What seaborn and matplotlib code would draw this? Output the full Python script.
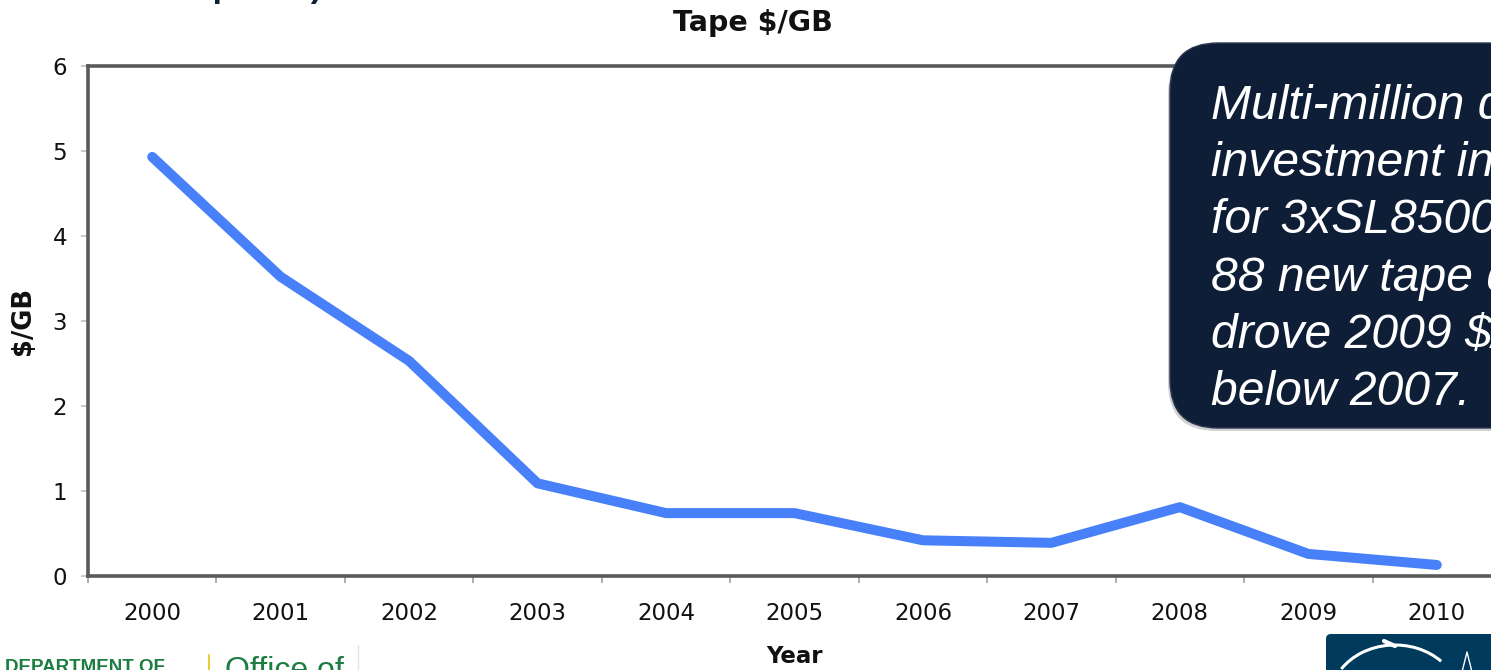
import matplotlib
matplotlib.use("Agg")
import matplotlib.pyplot as plt
import matplotlib.patches as mpatches
from matplotlib.transforms import IdentityTransform
from matplotlib.ticker import FixedLocator
import seaborn as sns
import pandas as pd

# ---- data ----
years = [2000, 2001, 2002, 2003, 2004, 2005, 2006, 2007, 2008, 2009, 2010]
cost_per_gb = [4.93, 3.52, 2.53, 1.09, 0.74, 0.74, 0.42, 0.39, 0.81, 0.26, 0.13]
y_ticks = [0, 1, 2, 3, 4, 5, 6]

chart_title = "Tape $/GB"
x_label = "Year"
y_label = "$/GB"
callout_lines = [
    "Multi-million dollar",
    "investment in media",
    "for 3xSL8500s and",
    "88 new tape drives",
    "drove 2009 $/GB",
    "below 2007.",
]

W, H = 1491, 670
DPI = 100

sns.set_theme(style="white")
plt.rcParams["font.family"] = ["DejaVu Sans"]

fig = plt.figure(figsize=(W / DPI, H / DPI), dpi=DPI)
fig.patch.set_facecolor("white")

def fx(x):
    return x / W

def fy(y):
    return 1 - y / H

# plot area (extends slightly past the right edge of the slide)
left, right, top, bottom = 88, 1501, 66, 576
ax = fig.add_axes([fx(left), fy(bottom), (right - left) / W, (bottom - top) / H])

df = pd.DataFrame({"Year": years, "Cost": cost_per_gb})
sns.lineplot(data=df, x="Year", y="Cost", ax=ax, color="#4780f8",
             linewidth=7.2, solid_capstyle="round", solid_joinstyle="round")

ax.set_xlim(years[0] - 0.5, years[-1] + 0.5)
ax.set_ylim(y_ticks[0], y_ticks[-1])
ax.set_yticks(y_ticks)
ax.set_xticks(years)
ax.set_xticklabels([str(y) for y in years])
ax.xaxis.set_minor_locator(FixedLocator([y - 0.5 for y in years] + [years[-1] + 0.5]))

ax.tick_params(axis="x", which="major", length=0, pad=18.5, labelsize=16.5, labelcolor="#111111")
ax.tick_params(axis="x", which="minor", length=5, width=1.2, color="#a0a0a0", direction="out", bottom=True)
ax.tick_params(axis="y", which="major", length=5, width=1.2, color="#c0c0c0", direction="out",
               pad=10, labelsize=16.5, labelcolor="#111111", left=True)

for side in ["left", "top", "bottom", "right"]:
    ax.spines[side].set_visible(True)
    ax.spines[side].set_color("#5a5a5a")
    ax.spines[side].set_linewidth(2.6)
ax.grid(False)

ax.set_xlabel(x_label, fontsize=16.5, fontweight="bold", color="#111111")
ax.xaxis.set_label_coords(0.5, (bottom - 645) / (bottom - top))
ax.set_ylabel(y_label, fontsize=18.5, fontweight="bold", color="#111111")
ax.yaxis.set_label_coords((23 - left) / (right - left), 0.5)
ax.yaxis.label.set_verticalalignment("center")

fig.text(fx(753), fy(31), chart_title, fontsize=20.5, fontweight="bold",
         color="#111111", ha="center", va="baseline")

# heading text running off the top of the slide
fig.text(fx(322), fy(-3), "(total cost and power)", fontsize=24, fontweight="bold",
         color="#0f1e37", ha="right", va="baseline", family=["Liberation Sans"])

# ---- callout box ----
ident = IdentityTransform()
bx0, by0, bx1, by1 = 1170, 43, 1560, 428
shadow = mpatches.FancyBboxPatch((bx0 - 2, H - by1 - 3), bx1 - bx0, by1 - by0,
                                 boxstyle="round,pad=0,rounding_size=48",
                                 transform=ident, facecolor="#000000", alpha=0.18,
                                 edgecolor="none", zorder=5)
fig.patches.append(shadow)
box = mpatches.FancyBboxPatch((bx0, H - by1), bx1 - bx0, by1 - by0,
                              boxstyle="round,pad=0,rounding_size=48",
                              transform=ident, facecolor="#0f1e37",
                              edgecolor="#2a3850", linewidth=1, zorder=6)
fig.patches.append(box)
for i, line in enumerate(callout_lines):
    fig.text(fx(1211), fy(119 + i * 57.2), line, fontsize=34.6, style="italic",
             color="white", ha="left", va="baseline", family=["Liberation Sans"], zorder=7)

# ---- footer logos ----
fig.text(fx(5), fy(659), "DEPARTMENT OF", fontsize=13.5, fontweight="bold",
         color="#1b7d3f", ha="left", va="top", family=["Liberation Sans"])
fig.add_artist(plt.Line2D([fx(209), fx(209)], [fy(655), fy(672)], color="#e6cf3a", linewidth=1.5))
fig.text(fx(225), fy(656), "Office of", fontsize=23, color="#1b7d3f",
         ha="left", va="top", family=["Liberation Sans"])
fig.add_artist(plt.Line2D([fx(358), fx(358)], [fy(645), fy(672)], color="#e4e4e4", linewidth=1))

logo = mpatches.FancyBboxPatch((1326, -20), 200, H - 634 + 20,
                               boxstyle="round,pad=0,rounding_size=5",
                               transform=ident, facecolor="#003a5c", edgecolor="none")
fig.patches.append(logo)
arc = mpatches.Arc((1395, H - 700), 130, 110, theta1=40, theta2=150,
                   transform=ident, color="white", linewidth=2.2)
fig.patches.append(arc)
fig.add_artist(plt.Line2D([1384, 1395], [H - 641, H - 646], transform=ident,
                          color="white", linewidth=3))
fig.add_artist(plt.Line2D([1462, 1467, 1472], [H - 672, H - 652, H - 672], transform=ident,
                          color="white", linewidth=1))

fig.savefig("out.png", dpi=DPI)
